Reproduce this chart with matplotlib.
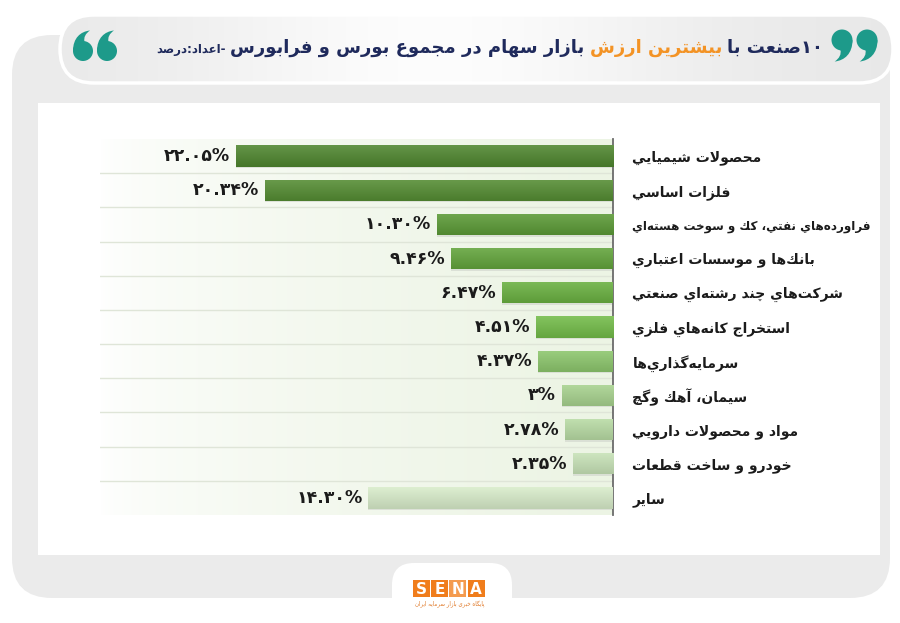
import re
import numpy as np
import matplotlib
matplotlib.use("Agg")
import matplotlib.pyplot as plt
from matplotlib.patches import FancyBboxPatch, Rectangle, PathPatch, Circle
from matplotlib.path import Path
from matplotlib.colors import to_rgb

plt.rcParams['font.family'] = ['DejaVu Sans']

# ---------------------------------------------------------------------
# Data (top to bottom as shown)
# ---------------------------------------------------------------------
industries = [
    "محصولات شيميايي",
    "فلزات اساسي",
    "فراورده\u200cهاي نفتي، كك و سوخت هسته\u200cاي",
    "بانك\u200cها و موسسات اعتباري",
    "شركت\u200cهاي چند رشته\u200cاي صنعتي",
    "استخراج كانه\u200cهاي فلزي",
    "سرمايه\u200cگذاري\u200cها",
    "سيمان، آهك وگچ",
    "مواد و محصولات دارويي",
    "خودرو و ساخت قطعات",
    "ساير",
]
shares = [22.05, 20.34, 10.30, 9.46, 6.47, 4.51, 4.37, 3, 2.78, 2.35, 14.30]

title_main_1 = "۱۰صنعت با"
title_highlight = "بیشترین ارزش"
title_main_2 = "بازار سهام در مجموع بورس و فرابورس"
title_unit = "-اعداد:درصد"

bar_colors = ['#4f862f', '#558d33', '#5c9b37', '#63a53c', '#6ab141', '#73bc49',
              '#8dc76d', '#a8d38f', '#b9dca5', '#c8e3b8', '#d8ecca']

# ---------------------------------------------------------------------
# Minimal Persian shaping (presentation forms + RTL visual order)
# ---------------------------------------------------------------------
ZWNJ = '\u200c'
# isolated, final, initial, medial
AR_FORMS = {
    '\u0622': ('\uFE81', '\uFE82', None, None),
    '\u0627': ('\uFE8D', '\uFE8E', None, None),
    '\u0628': ('\uFE8F', '\uFE90', '\uFE91', '\uFE92'),
    '\u067E': ('\uFB56', '\uFB57', '\uFB58', '\uFB59'),
    '\u062A': ('\uFE95', '\uFE96', '\uFE97', '\uFE98'),
    '\u062B': ('\uFE99', '\uFE9A', '\uFE9B', '\uFE9C'),
    '\u062C': ('\uFE9D', '\uFE9E', '\uFE9F', '\uFEA0'),
    '\u0686': ('\uFB7A', '\uFB7B', '\uFB7C', '\uFB7D'),
    '\u062D': ('\uFEA1', '\uFEA2', '\uFEA3', '\uFEA4'),
    '\u062E': ('\uFEA5', '\uFEA6', '\uFEA7', '\uFEA8'),
    '\u062F': ('\uFEA9', '\uFEAA', None, None),
    '\u0630': ('\uFEAB', '\uFEAC', None, None),
    '\u0631': ('\uFEAD', '\uFEAE', None, None),
    '\u0632': ('\uFEAF', '\uFEB0', None, None),
    '\u0698': ('\uFB8A', '\uFB8B', None, None),
    '\u0633': ('\uFEB1', '\uFEB2', '\uFEB3', '\uFEB4'),
    '\u0634': ('\uFEB5', '\uFEB6', '\uFEB7', '\uFEB8'),
    '\u0635': ('\uFEB9', '\uFEBA', '\uFEBB', '\uFEBC'),
    '\u0636': ('\uFEBD', '\uFEBE', '\uFEBF', '\uFEC0'),
    '\u0637': ('\uFEC1', '\uFEC2', '\uFEC3', '\uFEC4'),
    '\u0638': ('\uFEC5', '\uFEC6', '\uFEC7', '\uFEC8'),
    '\u0639': ('\uFEC9', '\uFECA', '\uFECB', '\uFECC'),
    '\u063A': ('\uFECD', '\uFECE', '\uFECF', '\uFED0'),
    '\u0641': ('\uFED1', '\uFED2', '\uFED3', '\uFED4'),
    '\u0642': ('\uFED5', '\uFED6', '\uFED7', '\uFED8'),
    '\u0643': ('\uFED9', '\uFEDA', '\uFEDB', '\uFEDC'),
    '\u06A9': ('\uFB8E', '\uFB8F', '\uFB90', '\uFB91'),
    '\u06AF': ('\uFB92', '\uFB93', '\uFB94', '\uFB95'),
    '\u0644': ('\uFEDD', '\uFEDE', '\uFEDF', '\uFEE0'),
    '\u0645': ('\uFEE1', '\uFEE2', '\uFEE3', '\uFEE4'),
    '\u0646': ('\uFEE5', '\uFEE6', '\uFEE7', '\uFEE8'),
    '\u0648': ('\uFEED', '\uFEEE', None, None),
    '\u0647': ('\uFEE9', '\uFEEA', '\uFEEB', '\uFEEC'),
    '\u064A': ('\uFEF1', '\uFEF2', '\uFEF3', '\uFEF4'),
    '\u06CC': ('\uFBFC', '\uFBFD', '\uFBFE', '\uFBFF'),
}
LAM_ALEF = {'\u0627': ('\uFEFB', '\uFEFC'), '\u0622': ('\uFEF5', '\uFEF6')}


def shape_fa(s):
    out = []
    n = len(s)
    i = 0
    prev_joins = False
    while i < n:
        c = s[i]
        if c not in AR_FORMS:
            if c != ZWNJ:
                out.append(c)
            prev_joins = False
            i += 1
            continue
        if c == '\u0644' and i + 1 < n and s[i + 1] in LAM_ALEF:
            iso, fin = LAM_ALEF[s[i + 1]]
            out.append(fin if prev_joins else iso)
            prev_joins = False
            i += 2
            continue
        iso, fin, ini, med = AR_FORMS[c]
        dual = ini is not None
        next_ok = i + 1 < n and s[i + 1] in AR_FORMS
        if prev_joins and dual and next_ok:
            out.append(med)
        elif prev_joins:
            out.append(fin)
        elif dual and next_ok:
            out.append(ini)
        else:
            out.append(iso)
        prev_joins = dual
        i += 1
    vis = ''.join(out)[::-1]
    # numbers stay left-to-right
    return re.sub(r'[0-9\u06F0-\u06F9.]+', lambda m: m.group(0)[::-1], vis)


def fa_digits(txt):
    return txt.translate(str.maketrans('0123456789', '۰۱۲۳۴۵۶۷۸۹'))


def pct_label(v):
    txt = f"{v:g}" if float(v).is_integer() else f"{v:.2f}"
    return fa_digits(txt) + '%'


def mix(c1, c2, t):
    a, b = np.array(to_rgb(c1)), np.array(to_rgb(c2))
    return a + (b - a) * t


def quote_mark(axis, cx, cy, r, flip, color):
    # a "6" shaped blob (circle with a tail); flip=True turns it into a "9"
    pts = [(-1.0, 0.0), (-1.0, -1.3), (-0.25, -1.95), (0.7, -2.05),
           (0.25, -1.75), (0.05, -1.35), (0.15, -0.95), (0.0, 0.0)]
    s = -1 if flip else 1
    verts = [(cx + s * px * r, cy + s * py * r) for px, py in pts]
    codes = [Path.MOVETO, Path.CURVE4, Path.CURVE4, Path.CURVE4,
             Path.CURVE4, Path.CURVE4, Path.CURVE4, Path.CLOSEPOLY]
    axis.add_patch(PathPatch(Path(verts, codes), fc=color, ec='none', zorder=3))
    axis.add_patch(Circle((cx, cy), r, fc=color, ec='none', zorder=3))


# ---------------------------------------------------------------------
# Figure and decorations (pixel coordinates in a background axes)
# ---------------------------------------------------------------------
fig = plt.figure(figsize=(9, 6.23), dpi=100, facecolor='white')
bg = fig.add_axes([0, 0, 1, 1], zorder=0)
bg.set_xlim(0, 900)
bg.set_ylim(623, 0)
bg.axis('off')

bg.add_patch(FancyBboxPatch((12 + 40, 35 + 40), 878 - 80, 563 - 80,
                            boxstyle="round,pad=40", fc='#ebebeb', ec='none'))
bg.add_patch(Rectangle((38, 103), 842, 452, fc='white', ec='none'))

# title pill with soft horizontal gradient
pill = FancyBboxPatch((60 + 34, 15 + 34), 833 - 68, 68 - 68,
                      boxstyle="round,pad=34", fc='none', ec='white', lw=2.5, zorder=2)
bg.add_patch(pill)
gx = np.linspace(0, 1, 300)
shade = 0.91 + 0.08 * np.exp(-((gx - 0.45) / 0.3) ** 2)
grad = np.dstack([shade, shade, shade])
im = bg.imshow(grad, extent=(60, 893, 83, 15), aspect='auto', zorder=1)
im.set_clip_path(pill)

# quote marks
teal = '#1d9a8a'
quote_mark(bg, 83, 51, 10, False, teal)
quote_mark(bg, 107, 51, 10, False, teal)
quote_mark(bg, 842, 40, 10.5, True, teal)
quote_mark(bg, 867, 40, 10.5, True, teal)

# title pieces placed right to left
renderer = fig.canvas.get_renderer()
x_cursor = 823
pieces = [(title_main_1, '#1f2a5c', 13), (title_highlight, '#f39325', 13),
          (title_main_2, '#1f2a5c', 13), (title_unit, '#1f2a5c', 8.5)]
for txt, col, fs in pieces:
    t = bg.text(x_cursor, 48 if fs > 10 else 50, shape_fa(txt), ha='right', va='center',
                fontsize=fs, fontweight='bold', color=col, zorder=3)
    bb = t.get_window_extent(renderer)
    x_cursor -= bb.width + (5 if fs > 10 else 1)

# logo tab
bg.add_patch(FancyBboxPatch((392 + 22, 563 + 22), 120 - 44, 80 - 44,
                            boxstyle="round,pad=22", fc='white', ec='none'))
logo_cols = ['#f07d1c', '#f07d1c', '#f49b4f', '#f07d1c']
for k, letter in enumerate("SENA"):
    x0 = 413 + k * 18.2
    bg.add_patch(Rectangle((x0, 580), 17, 17, fc=logo_cols[k], ec='none', zorder=3))
    bg.text(x0 + 8.5, 589, letter, ha='center', va='center', fontsize=11,
            fontweight='bold', color='white', zorder=4)
bg.text(450, 604, shape_fa("پایگاه خبری بازار سرمایه ایران"), ha='center', va='center',
        fontsize=4, color='#e07a2a', zorder=4)

# ---------------------------------------------------------------------
# Bar chart
# ---------------------------------------------------------------------
ax = fig.add_axes([100 / 900, 1 - 515 / 623, 513 / 900, 376 / 623], zorder=2)
ax.set_facecolor('none')

bgx = np.linspace(0, 1, 256) ** 0.6
back = np.array([mix('#ffffff', '#ecf4e4', t) for t in bgx])[None, :, :]
ax.imshow(back, extent=(0, 1, 0, 1), transform=ax.transAxes, aspect='auto', zorder=0)

y = np.arange(len(shares))
h = 0.62
shadow = ax.barh(y + 0.045, shares, height=h, color='#cfd3cb', alpha=0.6, zorder=2)
bars = ax.barh(y, shares, height=h, color='none', zorder=3)
for b, col in zip(bars, bar_colors):
    tv = np.linspace(0, 1, 40)
    g = np.array([mix(mix(col, '#ffffff', 0.12), mix(col, '#000000', 0.12), t) for t in tv])
    g = g[:, None, :]
    x0, x1 = b.get_x(), b.get_x() + b.get_width()
    y0, y1 = b.get_y(), b.get_y() + b.get_height()
    gi = ax.imshow(g, extent=(x1, x0, y1, y0), aspect='auto', zorder=3)
    gi.set_clip_path(b)

for i, v in enumerate(shares):
    ax.text(v + 0.35, i, pct_label(v), ha='right', va='center', fontsize=12.5,
            fontweight='bold', color='#1b1b1b', zorder=4)

for k in range(len(shares) - 1):
    ax.axhline(k + 0.5, color='#dfe5d8', lw=1, zorder=1)

ax.set_xlim(30, 0)
ax.set_ylim(len(shares) - 0.5, -0.5)
ax.set_xticks([])
ax.yaxis.tick_right()
ax.set_yticks(y)
ax.set_yticklabels([shape_fa(s) for s in industries], fontsize=10,
                   fontweight='bold', color='#1b1b1b')
ax.tick_params(axis='y', length=0, pad=14)
for side in ['top', 'bottom', 'left']:
    ax.spines[side].set_visible(False)
ax.spines['right'].set_color('#6b6b6b')
ax.spines['right'].set_linewidth(1.3)

# shrink any category label that would run past the white panel
fig.canvas.draw()
for lab in ax.get_yticklabels():
    w = lab.get_window_extent(renderer).width
    if w > 238:
        lab.set_fontsize(10 * 238 / w)

fig.savefig('out.png', dpi=100)
